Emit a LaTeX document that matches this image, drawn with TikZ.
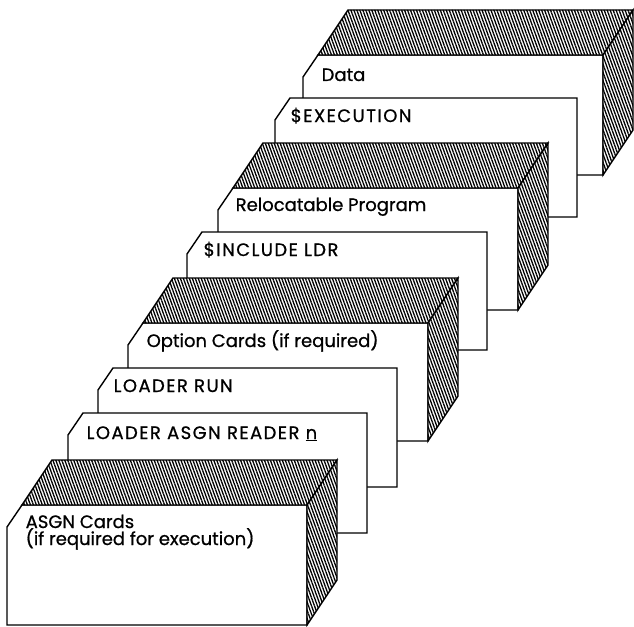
\documentclass[tikz,border=0pt]{standalone}
\usepackage{fontspec}
\setmainfont{Poppins}[FakeBold=0.8]
\usetikzlibrary{patterns.meta}

\begin{document}
\begin{tikzpicture}[x=1pt, y=-1pt, line width=1.4pt,
    face/.style={draw, fill=white},
    hatch/.style={draw, preaction={fill=white},
        pattern={Lines[angle=110, distance=2.8pt, line width=1.3pt]}},
    cardtext/.style={anchor=base west, inner sep=0pt, font=\fontsize{18}{17}\selectfont},
    capstext/.style={cardtext, font=\fontsize{18}{17}\selectfont\addfontfeatures{LetterSpace=8}}]
    \useasboundingbox (0,0) rectangle (634,626);

    % Data deck (back)
    \draw[face] (303,77) -- ++(15,-22) -- ++(285,0) -- ++(0,120) -- ++(-300,0) -- cycle;
    \draw[hatch] (318,55) -- ++(30,-45) -- ++(285,0) -- ++(-30,45) -- cycle;
    \draw[hatch] (603,55) -- ++(30,-45) -- ++(0,120) -- ++(-30,45) -- cycle;
    \node (data) [cardtext] at (321,81) {Data};

    % $EXECUTION card
    \draw[face] (275,120) -- ++(15,-22) -- ++(287,0) -- ++(0,119) -- ++(-302,0) -- cycle;
    \node (exec) [capstext] at (290,122) {\$EXECUTION};

    % relocatable program deck
    \draw[face] (218,210) -- ++(15,-22) -- ++(285,0) -- ++(0,122) -- ++(-300,0) -- cycle;
    \draw[hatch] (233,188) -- ++(30,-45) -- ++(285,0) -- ++(-30,45) -- cycle;
    \draw[hatch] (518,188) -- ++(30,-45) -- ++(0,122) -- ++(-30,45) -- cycle;
    \node (reloc) [cardtext] at (235,211) {Relocatable Program};

    % $INCLUDE LDR card
    \draw[face] (187,254) -- ++(15,-22) -- ++(285,0) -- ++(0,118) -- ++(-300,0) -- cycle;
    \node (incl) [capstext] at (203,256) {\$INCLUDE LDR};

    % option cards deck
    \draw[face] (128,345) -- ++(15,-22) -- ++(285,0) -- ++(0,118) -- ++(-300,0) -- cycle;
    \draw[hatch] (143,323) -- ++(30,-45) -- ++(285,0) -- ++(-30,45) -- cycle;
    \draw[hatch] (428,323) -- ++(30,-45) -- ++(0,118) -- ++(-30,45) -- cycle;
    \node (opt) [cardtext] at (146,347) {Option Cards (if required)};

    % LOADER RUN card
    \draw[face] (98,390) -- ++(15,-22) -- ++(284,0) -- ++(0,119) -- ++(-299,0) -- cycle;
    \node (run) [capstext] at (113,392) {LOADER RUN};

    % LOADER ASGN READER card
    \draw[face] (68,435) -- ++(15,-22) -- ++(284,0) -- ++(0,120) -- ++(-299,0) -- cycle;
    \node (reader) [capstext] at (86,439) {LOADER ASGN READER \underline{n}};

    % ASGN cards deck (front)
    \draw[face] (7,527) -- ++(15,-22) -- ++(285,0) -- ++(0,120) -- ++(-300,0) -- cycle;
    \draw[hatch] (22,505) -- ++(30,-45) -- ++(285,0) -- ++(-30,45) -- cycle;
    \draw[hatch] (307,505) -- ++(30,-45) -- ++(0,120) -- ++(-30,45) -- cycle;
    \node (asgn) [cardtext, anchor=north west, align=left] at (25,514)
        {ASGN Cards\\(if required for execution)};
\end{tikzpicture}
\end{document}
